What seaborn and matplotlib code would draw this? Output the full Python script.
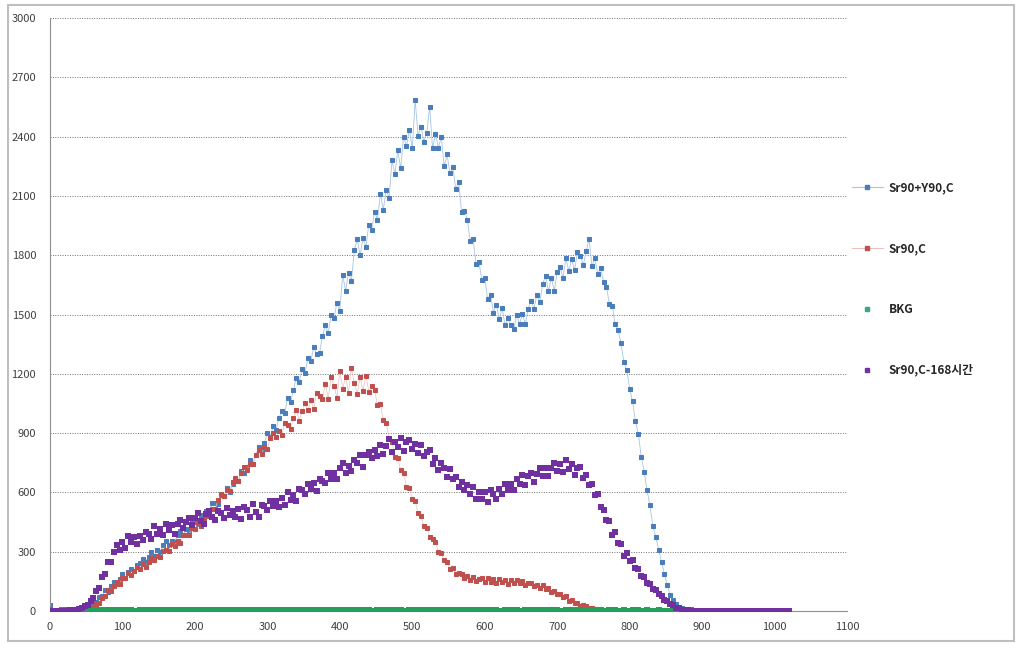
import numpy as np
import pandas as pd
import matplotlib
matplotlib.use('Agg')
import matplotlib.pyplot as plt
import seaborn as sns
from matplotlib.lines import Line2D
from matplotlib.patches import Rectangle

# channel axis, one reading every 4 channels (0..1020)
channels = np.arange(0, 1024, 4)

sr90_y90 = [
    30, 2, 0, 1, 0, 0, 1, 0, 2, 1, 3, 6, 7, 15, 21, 37,
    46, 73, 74, 107, 98, 125, 146, 137, 162, 186, 168, 198, 215, 201, 233, 241,
    264, 250, 275, 300, 280, 310, 296, 332, 354, 334, 356, 348, 384, 404, 386, 414,
    410, 448, 448, 442, 488, 474, 506, 490, 546, 544, 540, 586, 580, 622, 600, 642,
    665, 656, 708, 696, 727, 765, 742, 790, 828, 807, 851, 898, 880, 935, 918, 977,
    1010, 1000, 1080, 1055, 1120, 1180, 1160, 1225, 1205, 1280, 1265, 1335, 1300, 1305, 1390, 1445,
    1405, 1500, 1480, 1560, 1520, 1700, 1620, 1710, 1670, 1825, 1880, 1800, 1885, 1840, 1955, 1930,
    2020, 1980, 2110, 2030, 2130, 2090, 2280, 2210, 2330, 2240, 2400, 2350, 2435, 2340, 2585, 2405,
    2450, 2375, 2420, 2550, 2340, 2415, 2340, 2400, 2250, 2310, 2215, 2245, 2135, 2170, 2020, 2025,
    1980, 1870, 1880, 1755, 1765, 1675, 1685, 1580, 1600, 1510, 1550, 1475, 1535, 1445, 1480, 1445,
    1425, 1500, 1450, 1505, 1450, 1530, 1570, 1530, 1600, 1565, 1655, 1695, 1620, 1685, 1620, 1715,
    1740, 1685, 1785, 1720, 1780, 1725, 1815, 1795, 1750, 1820, 1880, 1745, 1785, 1705, 1735, 1665,
    1640, 1555, 1545, 1450, 1420, 1355, 1260, 1220, 1125, 1060, 960, 895, 780, 705, 610, 535,
    430, 375, 310, 250, 185, 130, 80, 55, 35, 22, 14, 8, 5, 3, 2, 0,
    1, 0, 0, 0, 1, 0, 0, 0, 0, 1, 0, 0, 0, 0, 0, 0,
    0, 0, 0, 0, 0, 0, 0, 0, 0, 0, 0, 0, 0, 0, 0, 0,
]

sr90 = [
    0, 1, 0, 0, 0, 1, 0, 0, 0, 1, 0, 0, 2, 4, 9, 16,
    33, 39, 68, 74, 105, 102, 127, 147, 138, 166, 167, 194, 181, 204, 221, 213,
    237, 224, 249, 270, 257, 277, 271, 305, 311, 305, 341, 330, 353, 342, 382, 385,
    387, 422, 416, 443, 430, 466, 492, 482, 514, 516, 564, 592, 582, 612, 606, 652,
    672, 660, 700, 728, 715, 746, 742, 789, 817, 796, 831, 820, 873, 902, 878, 910,
    892, 950, 942, 920, 977, 1015, 963, 1010, 1050, 1015, 1065, 1020, 1105, 1090, 1075, 1150,
    1075, 1182, 1140, 1080, 1215, 1125, 1183, 1105, 1230, 1155, 1098, 1185, 1115, 1190, 1110, 1140,
    1120, 1040, 1045, 965, 950, 870, 855, 780, 772, 712, 698, 625, 620, 568, 555, 495,
    480, 432, 422, 375, 366, 349, 298, 293, 256, 250, 214, 220, 186, 192, 187, 165,
    176, 159, 174, 150, 162, 166, 148, 165, 149, 160, 143, 162, 146, 155, 138, 155,
    140, 155, 140, 150, 130, 144, 144, 125, 133, 116, 130, 110, 117, 95, 103, 86,
    88, 70, 74, 53, 54, 40, 42, 27, 29, 23, 14, 15, 8, 9, 6, 4,
    5, 2, 3, 2, 2, 1, 1, 0, 1, 0, 0, 0, 0, 0, 0, 0,
    0, 0, 0, 0, 0, 0, 0, 0, 0, 0, 0, 0, 0, 0, 0, 0,
    0, 0, 0, 0, 0, 0, 0, 0, 0, 0, 0, 0, 0, 0, 0, 0,
    0, 0, 0, 0, 0, 0, 0, 0, 0, 0, 0, 0, 0, 0, 0, 0,
]

bkg = [
    3, 1, 0, 2, 4, 1, 3, 0, 2, 5, 1, 3, 2, 0, 4, 1,
    2, 5, 3, 1, 4, 2, 6, 3, 1, 4, 2, 5, 3, 1, 2, 4,
    1, 3, 5, 2, 4, 1, 3, 6, 2, 3, 1, 4, 2, 5, 3, 1,
    4, 2, 3, 5, 1, 3, 2, 4, 6, 2, 3, 1, 4, 2, 5, 3,
    2, 4, 1, 3, 5, 2, 3, 1, 4, 2, 6, 3, 1, 4, 2, 3,
    5, 1, 3, 2, 4, 3, 1, 5, 2, 4, 1, 3, 6, 2, 3, 1,
    3, 2, 4, 1, 5, 3, 2, 4, 1, 3, 5, 2, 4, 1, 3, 2,
    1, 4, 2, 5, 3, 1, 4, 2, 3, 5, 2, 1, 4, 3, 2, 5,
    2, 3, 1, 4, 6, 2, 3, 5, 1, 4, 2, 3, 5, 1, 4, 2,
    4, 1, 3, 2, 5, 3, 1, 4, 2, 3, 6, 2, 1, 4, 3, 2,
    3, 5, 2, 1, 4, 2, 5, 3, 1, 3, 4, 2, 5, 1, 3, 4,
    2, 1, 4, 3, 2, 5, 1, 3, 4, 2, 3, 1, 5, 2, 4, 1,
    1, 3, 2, 4, 1, 2, 3, 1, 2, 4, 1, 3, 2, 1, 3, 2,
    2, 1, 3, 1, 2, 1, 2, 3, 1, 2, 1, 2, 1, 3, 1, 2,
    1, 2, 1, 0, 2, 1, 1, 2, 0, 1, 2, 1, 0, 1, 2, 1,
    1, 0, 2, 1, 1, 0, 1, 2, 1, 0, 1, 1, 2, 0, 1, 0,
]

sr90_168h = [
    0, 2, 1, 0, 1, 0, 2, 3, 4, 7, 10, 13, 24, 32, 52, 68,
    100, 115, 172, 187, 250, 247, 300, 335, 310, 350, 320, 378, 350, 375, 340, 378,
    360, 402, 390, 362, 429, 388, 416, 386, 438, 408, 436, 390, 438, 458, 422, 452,
    472, 433, 470, 496, 455, 439, 490, 507, 477, 458, 508, 497, 472, 523, 484, 507,
    478, 514, 465, 527, 509, 478, 540, 501, 474, 538, 530, 509, 558, 532, 559, 528,
    574, 538, 603, 564, 586, 557, 616, 613, 590, 644, 616, 647, 605, 668, 660, 648,
    697, 668, 696, 666, 722, 747, 700, 734, 708, 766, 747, 790, 728, 787, 802, 775,
    817, 786, 841, 793, 834, 868, 805, 855, 831, 873, 811, 853, 865, 818, 844, 797,
    840, 785, 805, 813, 745, 772, 714, 750, 724, 680, 718, 667, 680, 625, 654, 614,
    637, 594, 629, 567, 602, 566, 603, 549, 613, 593, 567, 617, 591, 640, 610, 640,
    614, 667, 642, 687, 636, 682, 698, 652, 693, 722, 685, 725, 685, 724, 750, 710,
    743, 705, 763, 717, 744, 690, 722, 730, 673, 687, 637, 643, 585, 590, 528, 513,
    460, 455, 385, 400, 342, 337, 280, 295, 252, 257, 217, 215, 179, 173, 143, 138,
    112, 104, 84, 75, 58, 50, 36, 28, 17, 13, 7, 5, 3, 2, 1, 1,
    0, 1, 0, 0, 0, 0, 1, 0, 0, 0, 0, 0, 0, 0, 0, 0,
    0, 0, 0, 0, 0, 0, 0, 0, 0, 0, 0, 0, 0, 0, 0, 0,
]

labels = ['Sr90+Y90,C', 'Sr90,C', 'BKG', 'Sr90,C-168시간']

df = pd.DataFrame({'channel': channels, 'sr90_y90': sr90_y90, 'sr90': sr90,
                   'bkg': bkg, 'sr90_168h': sr90_168h})

sns.set_style('white')
plt.rcParams['font.family'] = ['Noto Sans CJK KR', 'DejaVu Sans']

fig = plt.figure(figsize=(10.22, 6.48), dpi=100)
ax = fig.add_axes([0.0489, 0.0571, 0.7799, 0.9151])

blue_m, blue_l = '#4A7EBB', '#A7C4E6'
red_m, red_l = '#C0504D', '#EBC0BE'
green = '#22A05C'
purple = '#7030A0'

sns.lineplot(data=df, x='channel', y='sr90_y90', ax=ax, color=blue_l, linewidth=0.6,
             marker='s', markersize=3.0, markerfacecolor=blue_m, markeredgecolor=blue_m,
             estimator=None, zorder=2)
sns.lineplot(data=df, x='channel', y='sr90', ax=ax, color=red_l, linewidth=0.5,
             marker='s', markersize=3.0, markerfacecolor=red_m, markeredgecolor=red_m,
             estimator=None, zorder=3)
sns.scatterplot(data=df, x='channel', y='bkg', ax=ax, color=green, marker='s', s=13,
                linewidth=0, zorder=4)
sns.scatterplot(data=df, x='channel', y='sr90_168h', ax=ax, color=purple, marker='s', s=15,
                linewidth=0, zorder=5)

ax.set_xlim(0, 1100)
ax.set_ylim(0, 3000)
ax.set_xticks(range(0, 1101, 100))
ax.set_yticks(range(0, 3001, 300))
ax.set_xlabel('')
ax.set_ylabel('')
ax.tick_params(axis='both', labelsize=8, colors='#404040')
ax.tick_params(axis='x', direction='out', length=4, color='#808080', pad=4)
ax.tick_params(axis='y', length=0, pad=10)
ax.yaxis.grid(True, linestyle=(0, (1, 1.5)), color='#707070', linewidth=0.7)
ax.xaxis.grid(False)
for side in ['top', 'right']:
    ax.spines[side].set_visible(False)
ax.spines['left'].set_color('#909090')
ax.spines['bottom'].set_color('#909090')

handles = [
    Line2D([], [], color=blue_l, lw=0.8, marker='s', markersize=2.5,
           markerfacecolor=blue_m, markeredgecolor=blue_m),
    Line2D([], [], color=red_l, lw=0.8, marker='s', markersize=2.5,
           markerfacecolor=red_m, markeredgecolor=red_m),
    Line2D([], [], color='none', marker='s', markersize=2.5,
           markerfacecolor='#3BA58C', markeredgecolor='#3BA58C'),
    Line2D([], [], color='none', marker='s', markersize=2.5,
           markerfacecolor=purple, markeredgecolor=purple),
]
fig.legend(handles, labels, loc='center left', bbox_to_anchor=(0.828, 0.5694),
           frameon=False, labelspacing=4.05, handlelength=2.6,
           handletextpad=0.5, borderpad=0, prop={'weight': 'bold', 'size': 8.5})

# outer chart border
fig.patches.append(Rectangle((8 / 1022, 7 / 648), 1006 / 1022, 636 / 648,
                             transform=fig.transFigure, fill=False,
                             edgecolor='#BFBFBF', linewidth=1.5))

fig.savefig('out.png', dpi=100, facecolor='white')
